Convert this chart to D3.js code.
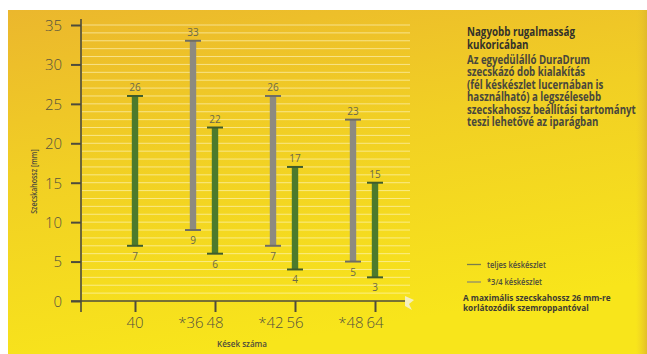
<!DOCTYPE html>
<html><head><meta charset="utf-8">
<script src="https://cdn.jsdelivr.net/npm/d3@7"></script>
<style>
html,body{margin:0;padding:0;background:#fff;}
svg{display:block;}
text{font-family:"Open Sans",sans-serif;}
</style></head><body>
<svg id="c" width="647" height="354"></svg>
<script>
// ---- data ----
const groups = ["40", "*36 48", "*42 56", "*48 64"];
const fullLabels = ["40", "48", "56", "64"];
const fullMin = [7, 6, 4, 3];
const fullMax = [26, 22, 17, 15];
const partGroups = ["*36 48", "*42 56", "*48 64"];
const partLabels = ["*36", "*42", "*48"];
const partMin = [9, 7, 5];
const partMax = [33, 26, 23];
const yTicks = [0, 5, 10, 15, 20, 25, 30, 35];
const gridValues = d3.range(1, 36);
const yTitle = "Szecskahossz [mm]";
const xTitle = "Kések száma";
const titleLines = ["Nagyobb rugalmasság", "kukoricában"];
const bodyLines = ["Az egyedülálló DuraDrum", "szecskázó dob kialakítás", "(fél késkészlet lucernában is", "használható) a legszélesebb", "szecskahossz beállítási tartományt", "teszi lehetővé az iparágban"];
const legendItems = ["teljes késkészlet", "*3/4 késkészlet"];
const noteLines = ["A maximális szecskahossz 26 mm-re", "korlátozódik szemroppantóval"];

// ---- helpers ----
// texts are drawn at x=0 inside a translated group; squeeze each line horizontally
// so that line `ref` gets width `target`
function fitBlock(sel, ref, target) {
  const nodes = sel.nodes();
  const k = target / nodes[ref].getComputedTextLength();
  nodes.forEach(n => {
    const px = +n.getAttribute("data-x"), py = +n.getAttribute("data-y");
    const anchor = n.getAttribute("text-anchor") || "start";
    n.setAttribute("x", 0); n.setAttribute("y", 0);
    n.setAttribute("transform", `translate(${px},${py}) scale(${k.toFixed(4)},1)`);
  });
}

// ---- setup ----
const svg = d3.select("#c");
const defs = svg.append("defs");
const grad = defs.append("linearGradient").attr("id","bg").attr("x1","0").attr("y1","0").attr("x2","0.3").attr("y2","1");
grad.append("stop").attr("offset","0").attr("stop-color","#ebb72d");
grad.append("stop").attr("offset","0.45").attr("stop-color","#f1cf24");
grad.append("stop").attr("offset","1").attr("stop-color","#f8e51b");
svg.append("rect").attr("x",8).attr("y",10).attr("width",639).attr("height",344).attr("fill","url(#bg)");
const edge = defs.append("linearGradient").attr("id","edge").attr("x1","0").attr("x2","1");
edge.append("stop").attr("offset","0").attr("stop-color","#e9c62a").attr("stop-opacity",0);
edge.append("stop").attr("offset","1").attr("stop-color","#ddb52c").attr("stop-opacity",0.8);
svg.append("rect").attr("x",636).attr("y",10).attr("width",11).attr("height",344).attr("fill","url(#edge)");

const y = d3.scaleLinear().domain([0, 35]).range([301, 25]);
const x = d3.scalePoint().domain(groups).range([135, 375]);
const partOffset = -22;
const axisColor = "#4d4b3c";
const labelColor = "#55533f";

// gridlines
svg.append("g").selectAll("line").data(gridValues).join("line")
  .attr("x1", 82).attr("x2", 410)
  .attr("y1", d => y(d)).attr("y2", d => y(d))
  .attr("stroke", "#fff8cc").attr("stroke-opacity", 0.6).attr("stroke-width", 1);

// y axis
const yAxis = d3.axisLeft(y).tickValues(yTicks).tickSize(10).tickPadding(9).tickFormat(d3.format("d"));
const gy = svg.append("g").attr("transform","translate(81,0)").call(yAxis);
gy.select(".domain").remove();
gy.selectAll(".tick line").attr("stroke", axisColor).attr("stroke-width", 2);
gy.selectAll(".tick text").attr("fill", labelColor).attr("font-family","Open Sans, sans-serif").attr("font-weight",300).attr("font-size", 15).attr("dy","0.36em");
svg.append("line").attr("x1",81).attr("x2",81).attr("y1",19).attr("y2",312).attr("stroke",axisColor).attr("stroke-width",1.6);

// x axis
svg.append("line").attr("x1",71).attr("x2",405).attr("y1",301).attr("y2",301).attr("stroke",axisColor).attr("stroke-width",1.6);
const xAxis = d3.axisBottom(x).tickSize(11).tickFormat("");
const gx = svg.append("g").attr("transform","translate(0,301)").call(xAxis);
gx.select(".domain").remove();
gx.selectAll(".tick line").attr("stroke", axisColor).attr("stroke-width", 2);
svg.append("path").attr("d","M405,296 L414,300 L409,304 L412,310 L405,306 Z").attr("fill","#f3efcf").attr("opacity",0.9);

// x tick labels
svg.append("g").selectAll("text").data(fullLabels).join("text")
  .attr("x", (d,i) => x(groups[i])).attr("y", 328).attr("text-anchor","middle")
  .attr("font-weight",300).attr("font-size",15).attr("fill",labelColor).text(d => d);
svg.append("g").selectAll("text").data(partLabels).join("text")
  .attr("x", (d,i) => x(partGroups[i]) + partOffset - 2).attr("y", 328).attr("text-anchor","middle")
  .attr("font-weight",300).attr("font-size",15).attr("fill",labelColor).text(d => d);

// axis titles
svg.append("g").attr("transform","translate(37,181.5) rotate(-90)")
  .append("text").attr("transform","scale(0.82,1)").attr("text-anchor","middle")
  .attr("font-size",8.5).attr("font-weight",600).attr("fill","#4d4b3c").text(yTitle);
const xt = svg.append("text").attr("data-x",242).attr("data-y",347).attr("text-anchor","middle")
  .attr("font-size",8.5).attr("font-weight",600).attr("fill","#4d4b3c").text(xTitle);
fitBlock(xt, 0, 50);

// bars
function drawBars(xs, mins, maxs, color, capColor) {
  const g = svg.append("g");
  const idx = d3.range(mins.length);
  g.selectAll("rect.bar").data(idx).join("rect").attr("class","bar")
    .attr("x", i => xs[i] - 3.2).attr("width", 6.4)
    .attr("y", i => y(maxs[i])).attr("height", i => y(mins[i]) - y(maxs[i]))
    .attr("fill", color);
  idx.forEach(i => {
    [maxs[i], mins[i]].forEach(v => {
      g.append("line").attr("x1", xs[i]-8).attr("x2", xs[i]+8).attr("y1", y(v)).attr("y2", y(v))
        .attr("stroke", capColor).attr("stroke-width", 2);
    });
  });
  g.selectAll("text.top").data(idx).join("text").attr("class","top")
    .attr("x", i => xs[i]).attr("y", i => y(maxs[i]) - 5).attr("text-anchor","middle")
    .attr("font-size", 10).attr("fill","#6a684c").text(i => maxs[i]);
  g.selectAll("text.bot").data(idx).join("text").attr("class","bot")
    .attr("x", i => xs[i]).attr("y", i => y(mins[i]) + 14).attr("text-anchor","middle")
    .attr("font-size", 10).attr("fill","#6a684c").text(i => mins[i]);
}
drawBars(partGroups.map(g => x(g) + partOffset), partMin, partMax, "#8d8a80", "#6f6d64");
drawBars(groups.map(g => x(g)), fullMin, fullMax, "#4c7a2c", "#3f5c2c");

// right text block
const titles = svg.append("g").selectAll("text").data(titleLines).join("text")
  .attr("data-x", 467).attr("data-y", (d,i) => 36 + i*12.7).attr("font-size", 12.5).attr("font-weight",700).attr("fill","#33322a").text(d => d);
fitBlock(titles, 0, 108);
const body = svg.append("g").selectAll("text").data(bodyLines).join("text")
  .attr("data-x", 467).attr("data-y", (d,i) => 63.7 + i*12.5).attr("font-size", 11.5).attr("font-weight",700).attr("fill","#48473c").text(d => d);
fitBlock(body, 4, 169);

// legend
const legendColors = ["#7a7d4c", "#8e8b6e"];
const lg = svg.append("g");
legendItems.forEach((t, i) => {
  lg.append("line").attr("x1",467).attr("x2",481).attr("y1",264.5 + i*17.5).attr("y2",264.5 + i*17.5).attr("stroke",legendColors[i]).attr("stroke-width",1.3);
});
const lgt = lg.selectAll("text.l").data(legendItems).join("text").attr("class","l")
  .attr("data-x",487).attr("data-y",(d,i) => 267.5 + i*17.5).attr("font-size",9.5).attr("fill","#4d4b3c").attr("font-weight", 600).text(d => d);
fitBlock(lgt, 0, 59);
const notes = lg.selectAll("text.n").data(noteLines).join("text").attr("class","n")
  .attr("data-x",463).attr("data-y",(d,i)=>300.7 + i*10.5).attr("font-size",9.5).attr("font-weight",700).attr("fill","#3c3b33").text(d=>d);
fitBlock(notes, 0, 148);
</script>
</body></html>
